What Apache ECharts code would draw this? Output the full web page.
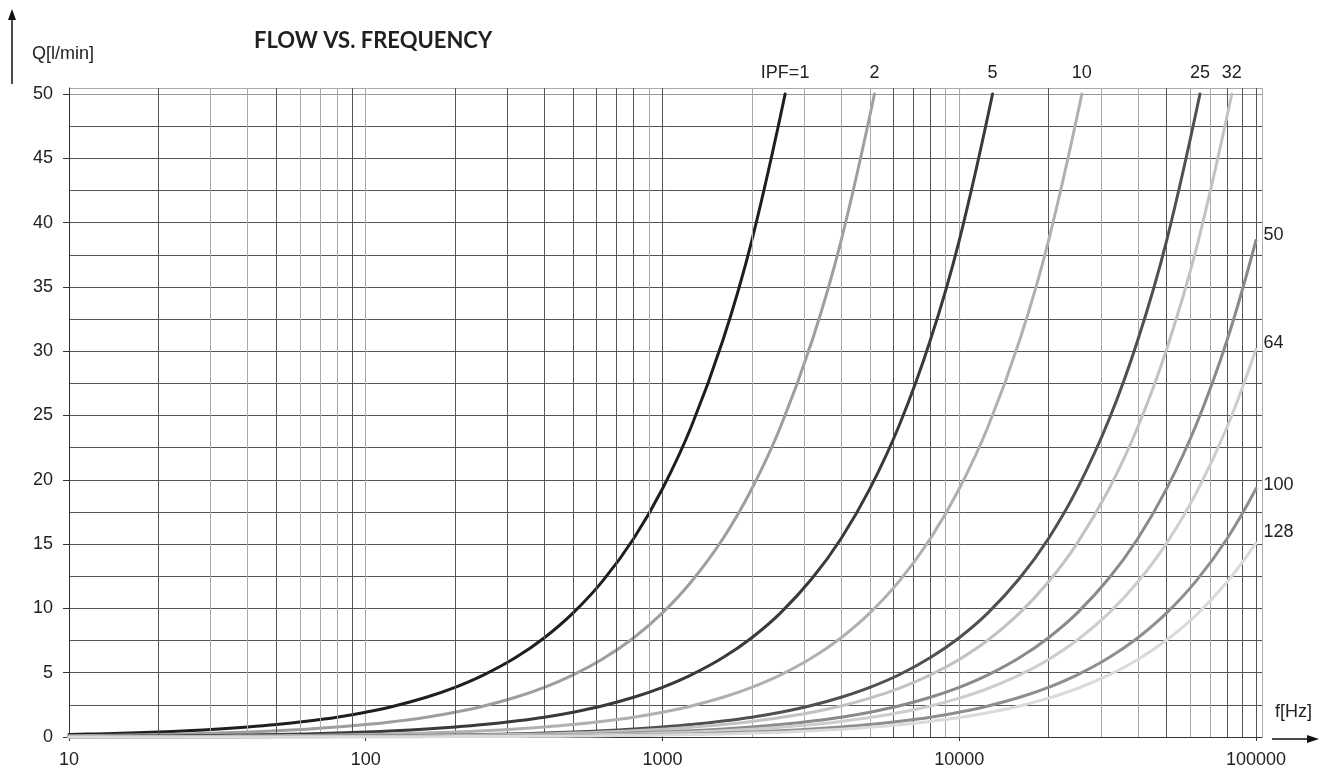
<!DOCTYPE html>
<html>
<head>
<meta charset="utf-8">
<script src="https://cdn.jsdelivr.net/npm/echarts@6/dist/echarts.min.js"></script>
<style>
html,body{margin:0;padding:0;background:#fff;}
#chart{width:1327px;height:772px;}
</style>
</head>
<body>
<div id="chart"></div>
<script>
// ---- data ----
const seriesNames = ['IPF=1', '2', '5', '10', '25', '32', '50', '64', '100', '128'];

// frequency sample points [Hz]
const freqGrid = [10,12.5,16,20,25,32,40,50,63,80,
                  100,125,160,200,250,320,400,500,630,800,
                  1000,1250,1600,2000,2500,3200,4000,5000,6300,8000,
                  10000,12500,16000,20000,25000,32000,40000,50000,63000,80000,
                  100000];
// frequency where each curve leaves the top of the chart (null = runs to the right edge)
const endFreq = [2590, 5180, 12950, 25900, 64750, 82900, null, null, null, null];

// flow Q [l/min] at freqGrid points (last value = end point)
const q_ipf1 = [0.193,0.241,0.309,0.386,0.483,0.618,0.772,0.965,1.22,1.54,
                1.93,2.41,3.09,3.86,4.83,6.18,7.72,9.65,12.16,15.44,
                19.31,24.13,30.89,38.61,50];
const q_ipf2 = [0.097,0.121,0.154,0.193,0.241,0.309,0.386,0.483,0.608,0.772,
                0.965,1.21,1.54,1.93,2.41,3.09,3.86,4.83,6.08,7.72,
                9.65,12.07,15.44,19.31,24.13,30.89,38.61,50];
const q_ipf5 = [0.039,0.048,0.062,0.077,0.097,0.124,0.154,0.193,0.243,0.309,
                0.386,0.483,0.618,0.772,0.965,1.24,1.54,1.93,2.43,3.09,
                3.86,4.83,6.18,7.72,9.65,12.36,15.44,19.31,24.32,30.89,
                38.61,50];
const q_ipf10 = [0.019,0.024,0.031,0.039,0.048,0.062,0.077,0.097,0.122,0.154,
                 0.193,0.241,0.309,0.386,0.483,0.618,0.772,0.965,1.22,1.54,
                 1.93,2.41,3.09,3.86,4.83,6.18,7.72,9.65,12.16,15.44,
                 19.31,24.13,30.89,38.61,50];
const q_ipf25 = [0.008,0.010,0.012,0.015,0.019,0.025,0.031,0.039,0.049,0.062,
                 0.077,0.097,0.124,0.154,0.193,0.247,0.309,0.386,0.486,0.618,
                 0.772,0.965,1.24,1.54,1.93,2.47,3.09,3.86,4.86,6.18,
                 7.72,9.65,12.36,15.44,19.31,24.71,30.89,38.61,50];
const q_ipf32 = [0.006,0.008,0.010,0.012,0.015,0.019,0.024,0.030,0.038,0.048,
                 0.060,0.075,0.097,0.121,0.151,0.193,0.241,0.302,0.380,0.483,
                 0.603,0.754,0.965,1.21,1.51,1.93,2.41,3.02,3.80,4.83,
                 6.03,7.54,9.65,12.07,15.08,19.31,24.13,30.16,38.01,50];
const q_ipf50 = [0.004,0.005,0.006,0.008,0.010,0.012,0.015,0.019,0.024,0.031,
                 0.039,0.048,0.062,0.077,0.097,0.124,0.154,0.193,0.243,0.309,
                 0.386,0.483,0.618,0.772,0.965,1.24,1.54,1.93,2.43,3.09,
                 3.86,4.83,6.18,7.72,9.65,12.36,15.44,19.31,24.32,30.89,
                 38.61];
const q_ipf64 = [0.003,0.004,0.005,0.006,0.008,0.010,0.012,0.015,0.019,0.024,
                 0.030,0.038,0.048,0.060,0.075,0.097,0.121,0.151,0.190,0.241,
                 0.302,0.377,0.483,0.603,0.754,0.965,1.21,1.51,1.90,2.41,
                 3.02,3.77,4.83,6.03,7.54,9.65,12.07,15.08,19.00,24.13,
                 30.16];
const q_ipf100 = [0.002,0.002,0.003,0.004,0.005,0.006,0.008,0.010,0.012,0.015,
                  0.019,0.024,0.031,0.039,0.048,0.062,0.077,0.097,0.122,0.154,
                  0.193,0.241,0.309,0.386,0.483,0.618,0.772,0.965,1.22,1.54,
                  1.93,2.41,3.09,3.86,4.83,6.18,7.72,9.65,12.16,15.44,
                  19.31];
const q_ipf128 = [0.002,0.002,0.002,0.003,0.004,0.005,0.006,0.008,0.010,0.012,
                  0.015,0.019,0.024,0.030,0.038,0.048,0.060,0.075,0.095,0.121,
                  0.151,0.189,0.241,0.302,0.377,0.483,0.603,0.754,0.950,1.21,
                  1.51,1.89,2.41,3.02,3.77,4.83,6.03,7.54,9.50,12.07,
                  15.08];

const minorGridF = [20,30,40,50,60,70,80,90,200,300,400,500,600,700,800,900,2000,3000,4000,5000,6000,7000,8000,9000,20000,30000,40000,50000,60000,70000,80000,90000];
const minorGridDark = [1,0,0,1,0,0,0,1, 1,1,1,1,1,1,1,0, 0,0,0,0,1,1,1,0, 1,0,0,1,0,0,1,1];

const titleText = 'FLOW VS. FREQUENCY';
const yName = 'Q[l/min]';
const xName = 'f[Hz]';

// ---- build ----
const qLists = [q_ipf1, q_ipf2, q_ipf5, q_ipf10, q_ipf25, q_ipf32, q_ipf50, q_ipf64, q_ipf100, q_ipf128];
function pointsFor(i) {
  const q = qLists[i];
  if (endFreq[i] == null) return freqGrid.map((f, j) => [f, q[j]]);
  const pts = [];
  for (let j = 0; j < q.length - 1; j++) pts.push([freqGrid[j], q[j]]);
  pts.push([endFreq[i], q[q.length - 1]]);
  return pts;
}
const styles = [
  {color: '#1e1e1e', pos: 'top'},
  {color: '#9e9e9e', pos: 'top'},
  {color: '#3a3a3a', pos: 'top'},
  {color: '#b0b0b0', pos: 'top'},
  {color: '#505050', pos: 'top'},
  {color: '#c2c2c2', pos: 'top'},
  {color: '#8a8a8a', pos: 'right', dy: -5},
  {color: '#cdcdcd', pos: 'right', dy: -6},
  {color: '#8e8e8e', pos: 'right', dy: -4},
  {color: '#dadada', pos: 'right', dy: -11}
];

const FONT = '"Liberation Sans", Arial, sans-serif';
const FS = 18;
const DARK = '#555';
const LIGHT = '#aaa';

const series = [];
series.push({
  type: 'line', data: [], z: 1, silent: true,
  markLine: {
    silent: true, symbol: ['none', 'none'], animation: false,
    label: {show: false},
    data: minorGridF.map((f, i) => ({xAxis: f, lineStyle: {color: minorGridDark[i] ? DARK : LIGHT, width: 1, type: 'solid'}}))
  }
});
styles.forEach((c, i) => {
  const d = pointsFor(i);
  const last = d[d.length - 1];
  series.push({
    name: seriesNames[i],
    type: 'line', z: 3 + i,
    data: d,
    showSymbol: false, smooth: 0.4,
    lineStyle: {color: c.color, width: 3, join: 'round', cap: 'round'},
    itemStyle: {color: c.color},
    animation: false,
    markPoint: {
      symbol: 'circle', symbolSize: 1, animation: false, silent: true,
      itemStyle: {color: 'rgba(0,0,0,0)'},
      label: {
        show: true, formatter: seriesNames[i], position: c.pos,
        offset: c.pos === 'top' ? [0, -7] : [2, c.dy],
        color: '#222', fontSize: FS, fontFamily: FONT
      },
      data: [{coord: last}]
    }
  });
});

const yLineColors = [];
for (let i = 0; i < 20; i++) yLineColors.push(DARK);
yLineColors.push('#999', LIGHT);

const chart = echarts.init(document.getElementById('chart'), null, {renderer: 'canvas'});
chart.setOption({
  backgroundColor: '#fff',
  animation: false,
  title: {
    text: titleText, left: 249, top: 25,
    textStyle: {fontFamily: 'Lato, "DejaVu Sans", sans-serif', fontWeight: 'bold', fontSize: 22, color: '#231f20'}
  },
  grid: {left: 69, right: 65, top: 88, bottom: 35, containLabel: false},
  xAxis: {
    type: 'log', logBase: 10, min: 10, max: 104790,
    axisLine: {show: true, lineStyle: {color: '#333', width: 1}},
    axisTick: {show: true, length: 4, lineStyle: {color: '#333'}},
    axisLabel: {
      showMaxLabel: false, color: '#222', fontSize: FS, fontFamily: FONT, margin: 14,
      formatter: v => String(Math.round(v))
    },
    splitLine: {show: true, lineStyle: {color: [DARK, LIGHT, DARK, LIGHT, DARK, LIGHT], width: 1}}
  },
  yAxis: [{
    type: 'value', min: 0, max: 50.47, interval: 5,
    axisLine: {show: true, lineStyle: {color: '#333'}},
    axisTick: {show: true, length: 6, lineStyle: {color: '#333'}},
    axisLabel: {showMaxLabel: false, color: '#222', fontSize: FS, fontFamily: FONT, margin: 16},
    splitLine: {show: false}
  }, {
    type: 'value', min: 0, max: 50.47, interval: 2.5, position: 'left',
    axisLine: {show: false}, axisTick: {show: false}, axisLabel: {show: false},
    splitLine: {show: true, lineStyle: {color: yLineColors, width: 1}}
  }],
  graphic: [
    {type: 'line', shape: {x1: 12, y1: 84, x2: 12, y2: 18}, style: {stroke: '#111', lineWidth: 1.5}},
    {type: 'polygon', shape: {points: [[12, 9], [8, 20], [16, 20]]}, style: {fill: '#111'}},
    {type: 'text', left: 32, top: 45, style: {text: yName, fontSize: FS, fontFamily: FONT, fill: '#222'}},
    {type: 'line', shape: {x1: 1272, y1: 739, x2: 1308, y2: 739}, style: {stroke: '#111', lineWidth: 1.5}},
    {type: 'polygon', shape: {points: [[1319, 739], [1307, 735], [1307, 743]]}, style: {fill: '#111'}},
    {type: 'text', left: 1275, top: 703, style: {text: xName, fontSize: FS, fontFamily: FONT, fill: '#222'}}
  ],
  series: series
});
</script>
</body>
</html>
